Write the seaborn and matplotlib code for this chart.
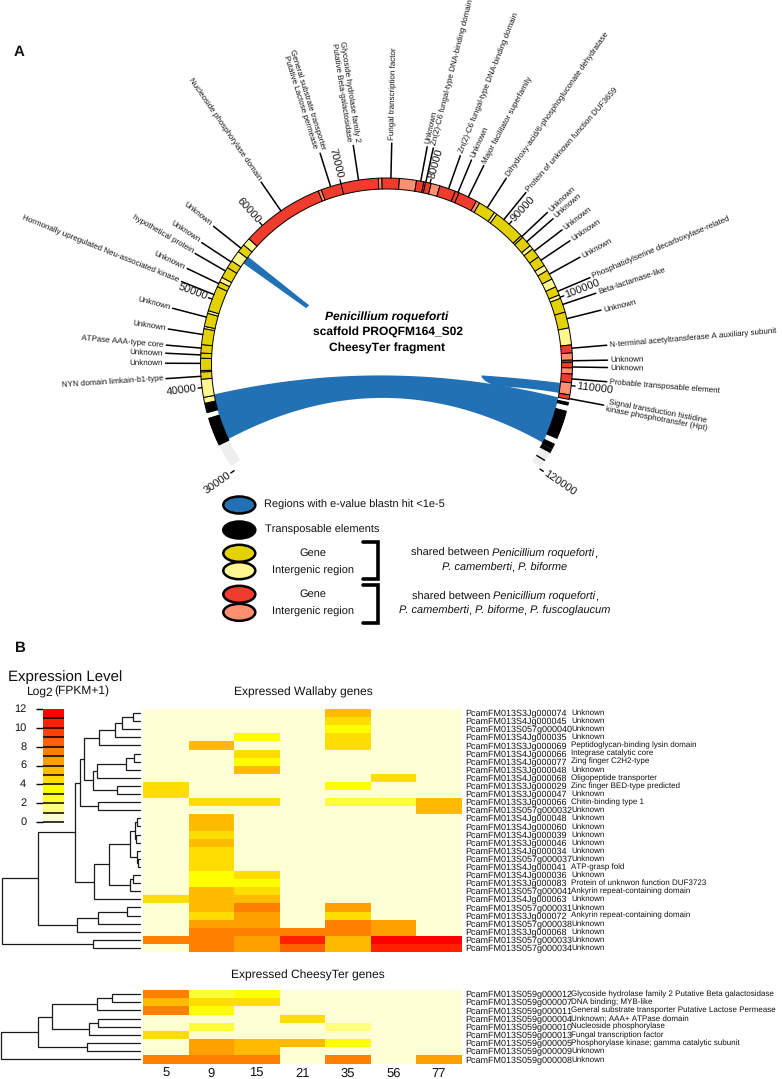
import numpy as np
import matplotlib
matplotlib.use("Agg")
import matplotlib.pyplot as plt
from matplotlib.colors import ListedColormap
from matplotlib.patches import Wedge, Ellipse, Polygon
import seaborn as sns

# ---------- data: panel A ----------
tick_values = [30000, 40000, 50000, 60000, 70000, 80000, 90000, 100000, 110000, 120000]

seg_start = [30600, 33320, 37150, 38230, 38900, 40935, 41750, 41900, 43280, 43860, 44800, 46600, 46850,
             48350, 48650, 51500, 52100, 52650, 53900, 54790, 56060, 57000, 57900, 67350, 67700, 70000,
             74200, 74600, 76550, 78470, 79300, 79500, 80130, 81140, 82950, 83400, 85540, 85950, 87920,
             88250, 91850, 92100, 93350, 93800, 94900, 96050, 96700, 97780, 98750, 99730, 100130, 101740,
             103550, 105460, 106360, 107160, 107400, 108030, 108710, 109690, 111060, 111900, 112900,
             116800, 117500, 117900]
seg_end = [33320, 36500, 38230, 38900, 40935, 41750, 41900, 43280, 43860, 44800, 46600, 46850, 48350,
           48650, 51500, 52100, 52650, 53900, 54790, 56060, 57000, 57900, 67350, 67700, 70000, 74200,
           74600, 76550, 78470, 79300, 79500, 80130, 81140, 82950, 83400, 85540, 85950, 87920, 88250,
           91850, 92100, 93350, 93800, 94900, 96050, 96700, 97780, 98750, 99730, 100130, 101740, 103550,
           105460, 106360, 107160, 107400, 108030, 108710, 109690, 111060, 111560, 112200, 116100,
           117400, 117900, 119800]
seg_kind = ["unseq", "te", "te", "inter3", "inter3", "gene3", "inter3", "gene3", "gene3", "gene3", "gene3",
            "inter3", "gene3", "inter3", "gene3", "gene3", "inter3", "gene3", "gene3", "inter3", "gene3",
            "inter3", "gene4", "inter4", "gene4", "gene4", "inter4", "gene4", "inter4", "gene4", "gene4",
            "gene4", "inter4", "gene4", "gene4", "gene4", "inter4", "gene3", "inter3", "gene3", "gene3",
            "gene3", "inter3", "gene3", "gene3", "inter3", "gene3", "inter3", "gene3", "inter3", "gene3",
            "gene3", "inter3", "gene4", "inter4", "gene4", "gene4", "inter4", "gene4", "inter4", "gene4",
            "te", "te", "te", "te", "unseq"]

gene_names = ["NYN domain limkain-b1-type", "Unknown", "Unknown", "ATPase AAA-type core", "Unknown", "Unknown",
              "Hormonally upregulated Neu-associated kinase", "Unknown", "hypothetical protein", "Unknown",
              "Unknown", "Nucleoside phosphorylase domain",
              "General substrate transporter\nPutative Lactose permease",
              "Glycoside hydrolase family 2\nPutative Beta-galactosidase", "Fungal transcription factor",
              "Unknown", "Zn(2)-C6 fungal-type DNA-binding domain", "Zn(2)-C6 fungal-type DNA-binding domain",
              "Unknown", "Major facilitator superfamily", "Dihydroxy-acid/6-phosphogluconate dehydratase",
              "Protein of unknown function DUF3659", "Unknown", "Unknown", "Unknown", "Unknown", "Unknown",
              "Phosphatidylserine decarboxylase-related", "Beta-lactamase-like", "Unknown",
              "N-terminal acetyltransferase A auxiliary subunit", "Unknown", "Unknown",
              "Probable transposable element", "Signal transduction histidine\nkinase phosphotransfer (Hpt)"]
gene_pos = [41260, 42700, 43640, 44400, 45920, 47900, 50540, 51870, 53460, 54650, 56530, 62630, 68800, 71990,
            75600, 78940, 79520, 82150, 83270, 84530, 86950, 89220, 91970, 92760, 94100, 95360, 97160, 99290,
            100850, 102500, 105830, 107230, 107920, 109250, 111460]

# ribbons: (start, end) on one side, (start, end) on the other
main_ribbon = (39020, 33470, 111560, 117230)
lobe_ribbon = (109830, 111020)
small_ribbon = (55300, 56270)

# ---------- data: panel B ----------
cols = ["5", "9", "15", "21", "35", "56", "77"]

wallaby_ids = ["PcamFM013S3Jg000074", "PcamFM013S4Jg000045", "PcamFM013S057g000040", "PcamFM013S4Jg000035",
               "PcamFM013S3Jg000069", "PcamFM013S4Jg000066", "PcamFM013S4Jg000077", "PcamFM013S3Jg000048",
               "PcamFM013S4Jg000068", "PcamFM013S3Jg000029", "PcamFM013S3Jg000047", "PcamFM013S3Jg000066",
               "PcamFM013S057g000032", "PcamFM013S4Jg000048", "PcamFM013S4Jg000060", "PcamFM013S4Jg000039",
               "PcamFM013S3Jg000046", "PcamFM013S4Jg000034", "PcamFM013S057g000037", "PcamFM013S4Jg000041",
               "PcamFM013S4Jg000036", "PcamFM013S3Jg000083", "PcamFM013S057g000041", "PcamFM013S4Jg000063",
               "PcamFM013S057g000031", "PcamFM013S3Jg000072", "PcamFM013S057g000038", "PcamFM013S3Jg000068",
               "PcamFM013S057g000033", "PcamFM013S057g000034"]
wallaby_desc = ["Unknown", "Unknown", "Unknown", "Unknown", "Peptidoglycan-binding lysin domain",
                "Integrase catalytic core", "Zing finger C2H2-type", "Unknown", "Oligopeptide transporter",
                "Zinc finger BED-type predicted", "Unknown", "Chitin-binding type 1", "Unknown", "Unknown",
                "Unknown", "Unknown", "Unknown", "Unknown", "Unknown", "ATP-grasp fold", "Unknown",
                "Protein of unknwon function DUF3723", "Ankyrin repeat-containing domain", "Unknown", "Unknown",
                "Ankyrin repeat-containing domain", "Unknown", "Unknown", "Unknown", "Unknown"]
wallaby_levels = [
    [0, 0, 0, 0, 5, 0, 0],
    [0, 0, 0, 0, 4, 0, 0],
    [0, 0, 0, 0, 3, 0, 0],
    [0, 0, 3, 0, 4, 0, 0],
    [0, 5, 0, 0, 4, 0, 0],
    [0, 0, 4, 0, 0, 0, 0],
    [0, 0, 3, 0, 0, 0, 0],
    [0, 0, 5, 0, 0, 0, 0],
    [0, 0, 0, 0, 0, 4, 0],
    [4, 0, 0, 0, 3, 0, 0],
    [4, 0, 0, 0, 0, 0, 0],
    [0, 4, 4, 0, 2, 2, 5],
    [0, 0, 0, 0, 0, 0, 5],
    [0, 5, 0, 0, 0, 0, 0],
    [0, 5, 0, 0, 0, 0, 0],
    [0, 4, 0, 0, 0, 0, 0],
    [0, 5, 0, 0, 0, 0, 0],
    [0, 4, 0, 0, 0, 0, 0],
    [0, 4, 0, 0, 0, 0, 0],
    [0, 4, 0, 0, 0, 0, 0],
    [0, 3, 4, 0, 0, 0, 0],
    [0, 3, 3, 0, 0, 0, 0],
    [0, 5, 4, 0, 0, 0, 0],
    [4, 5, 5, 0, 0, 0, 0],
    [0, 5, 7, 0, 6, 0, 0],
    [0, 4, 6, 0, 4, 0, 0],
    [0, 6, 6, 0, 7, 6, 0],
    [0, 7, 7, 7, 7, 6, 0],
    [7, 7, 6, 10, 5, 11, 11],
    [0, 7, 6, 8, 5, 10, 10],
]

cheesy_ids = ["PcamFM013S059g000012", "PcamFM013S059g000007", "PcamFM013S059g000011", "PcamFM013S059g000004",
              "PcamFM013S059g000010", "PcamFM013S059g000013", "PcamFM013S059g000005", "PcamFM013S059g000009",
              "PcamFM013S059g000008"]
cheesy_desc = ["Glycoside hydrolase family 2 Putative Beta galactosidase", "DNA binding; MYB-like",
               "General substrate transporter Putative Lactose Permease", "Unknown; AAA+ ATPase domain",
               "Nucleoside phosphorylase", "Fungal transcription factor",
               "Phosphorylase kinase; gamma catalytic subunit", "Unknown", "Unknown"]
cheesy_levels = [
    [7, 2, 3, 0, 0, 0, 0],
    [5, 4, 4, 0, 0, 0, 0],
    [7, 3, 0, 0, 0, 0, 0],
    [0, 0, 0, 4, 0, 0, 0],
    [0, 2, 0, 0, 1, 0, 0],
    [4, 0, 0, 0, 0, 0, 0],
    [0, 6, 5, 5, 3, 0, 0],
    [0, 6, 5, 0, 0, 0, 0],
    [7, 7, 7, 0, 7, 0, 6],
]
level_colors = ["#FFFFD5", "#FFFF80", "#FFFF33", "#FFFF00", "#FFDD00", "#FFBB00",
                "#FF9F00", "#FF8000", "#FF6000", "#FF4000", "#FF2000", "#FF0000"]
scale_ticks = [12, 10, 8, 6, 4, 2, 0]

# merge trees: (merge height, child, child), leaf = row number
wallaby_tree = (1.5,
    (38,
        (75,
            (80,
                (84,
                    (98.7, (115, (122, (133, 0, 1), 2), 3), 4),
                    (92.7, (97, (126, (134, 5, 6), 7), 8), (117, 9, 10))),
                (97.5, 11, 12)),
            (94,
                (109,
                    (130, (135, (137, 13, 14), (136, 15, 16)), (137, 17, (138, 18, 19))),
                    (129.7, (133, 20, 21), 22)),
                23)),
        (76.7, (98, (127, 24, 25), 26), 27)),
    (93, 28, 29))
cheesy_tree = (1,
    (38,
        (52, (97, (112, 0, 1), 2), (89, (98, 3, 4), 5)),
        (87, 6, 7)),
    8)

# ---------- layout ----------
W, H = 782, 1079
CX, CY = 386.5, 364
R_IN, R_OUT, R_LINE = 175, 186, 221
kind_colors = {"gene3": "#E3D200", "inter3": "#FFF68F", "gene4": "#F03C2C", "inter4": "#FF9070",
               "te": "black", "unseq": "#EEEEEE"}
BLUE = "#2271B5"
SMALL = 5.85
LEGEND = 8.1

sns.set_theme(style="white")
plt.rcParams["font.family"] = ["Liberation Sans", "DejaVu Sans"]
plt.rcParams["axes.unicode_minus"] = False
plt.rcParams["text.hinting"] = "no_hinting"
plt.rcParams["text.hinting_factor"] = 1

fig = plt.figure(figsize=(W / 100, H / 100), dpi=100)
ax = fig.add_axes([0, 0, 1, 1])
ax.set_xlim(0, W)
ax.set_ylim(H, 0)
ax.axis("off")


def px_axes(x0, y0, x1, y1):
    return fig.add_axes([x0 / W, 1 - y1 / H, (x1 - x0) / W, (y1 - y0) / H])


def angle(pos):
    return -125 + (np.asarray(pos) - 30000) * 27.71 / 10000


def polar_xy(pos, r):
    th = np.radians(angle(pos))
    return CX + r * np.sin(th), CY - r * np.cos(th)


def radial_text(pos, r, label, size):
    th = angle(pos)
    x, y = polar_xy(pos, r)
    rot = 90 - th if th >= 0 else -90 - th
    # labels on the upper right lean a little further over than the radius
    if 5 < th < 45:
        rot -= 2
    ax.text(x, y, label, fontsize=size, rotation=rot, rotation_mode="anchor",
            ha="left" if th >= 0 else "right", va="center", ma="center", color="#111111",
            linespacing=1.05)


def ribbon_arc(a, b):
    # arc along the inner edge of the ring
    steps = np.linspace(a, b, 12)
    return [polar_xy(p, R_IN) for p in steps]


def bezier(p0, c, p1):
    t = np.linspace(0, 1, 60)[:, None]
    return (1 - t) ** 2 * np.array(p0) + 2 * t * (1 - t) * np.array(c) + t ** 2 * np.array(p1)


def piece_width(s, **kw):
    r = fig.canvas.get_renderer()
    t = ax.text(0, 0, "|" + s + "|", **kw)
    w1 = t.get_window_extent(r).width
    t.set_text("||")
    w2 = t.get_window_extent(r).width
    t.remove()
    return w1 - w2


def run_text(pieces, x, y, size, center=True):
    # one line of plain and italic pieces
    widths = [piece_width(s, fontsize=size, style=st) for s, st in pieces]
    cur = x - sum(widths) / 2 if center else x
    for (s, st), w in zip(pieces, widths):
        ax.text(cur, y, s, fontsize=size, style=st, ha="left", va="center", color="#111111")
        cur += w


# ---------- panel A: ribbons ----------
a1, a2, b1, b2 = main_ribbon
ctrl = (CX, 355)
top = bezier(polar_xy(a1, R_IN), ctrl, polar_xy(b1, R_IN))
bottom = bezier(polar_xy(b2, R_IN), ctrl, polar_xy(a2, R_IN))
pts = np.vstack([top, ribbon_arc(b1, b2), bottom, ribbon_arc(a2, a1)])
ax.add_patch(Polygon(pts, closed=True, fc=BLUE, ec="none", zorder=1))

tip = polar_xy((lobe_ribbon[0] + lobe_ribbon[1]) / 2 - 150, 96)
tip_up = bezier(polar_xy(lobe_ribbon[0], R_IN), (tip[0] + 38, tip[1] + 1.5), (tip[0], tip[1] - 1))
tip_low = bezier((tip[0], tip[1] + 1), (tip[0] + 6, tip[1] + 8), (tip[0] + 18, tip[1] + 10))
tail = bezier((tip[0] + 18, tip[1] + 10), (tip[0] + 45, tip[1] + 11), polar_xy(lobe_ribbon[1], R_IN))
pts = np.vstack([tip_up, tip_low, tail, ribbon_arc(lobe_ribbon[1], lobe_ribbon[0])])
ax.add_patch(Polygon(pts, closed=True, fc=BLUE, ec="none", zorder=1))

s1, s2 = small_ribbon
pts = ribbon_arc(s1, s2) + [polar_xy(s2 - 220, 97), polar_xy(s1 - 100, 98)]
ax.add_patch(Polygon(pts, closed=True, fc=BLUE, ec="none", zorder=1))

# ---------- panel A: ring ----------
for s, e, k in zip(seg_start, seg_end, seg_kind):
    edge = "none" if k == "unseq" else "black"
    ax.add_patch(Wedge((CX, CY), R_OUT, angle(s) - 90, angle(e) - 90, width=R_OUT - R_IN,
                       fc=kind_colors[k], ec=edge, lw=0.7, zorder=2))
x0, y0 = polar_xy(118900, R_IN + 1)
x1, y1 = polar_xy(118900, R_OUT - 1)
ax.plot([x0, x1], [y0, y1], color="black", lw=1, zorder=3)

for v in tick_values:
    x0, y0 = polar_xy(v, R_OUT)
    x1, y1 = polar_xy(v, R_OUT + 4)
    ax.plot([x0, x1], [y0, y1], color="black", lw=1, zorder=3)
    radial_text(v, R_OUT + 5.5, str(v), 8)

for name, p in zip(gene_names, gene_pos):
    x0, y0 = polar_xy(p, R_OUT)
    x1, y1 = polar_xy(p, R_LINE)
    ax.plot([x0, x1], [y0, y1], color="black", lw=1.1, zorder=3)
    radial_text(p, R_LINE + 3, name, SMALL)

ax.text(19, 52, "A", fontsize=10.7, fontweight="bold", ha="center", va="center", color="#111111")
ax.text(CX, 317, "Penicillium roqueforti", fontsize=8.3, fontweight="bold", style="italic",
        ha="center", va="center", color="black")
ax.text(CX + 1.5, 332.5, "scaffold PROQFM164_S02", fontsize=8.3, fontweight="bold",
        ha="center", va="center", color="black")
ax.text(CX + 1, 348, "CheesyTer fragment", fontsize=8.3, fontweight="bold",
        ha="center", va="center", color="black")

# ---------- panel A: legend ----------
legend_y = [505, 530, 553.3, 570.7, 594.3, 612.3]
legend_c = [BLUE, "black", kind_colors["gene3"], kind_colors["inter3"], kind_colors["gene4"], kind_colors["inter4"]]
for y, c in zip(legend_y, legend_c):
    ax.add_patch(Ellipse((239.3, y), 32, 17, fc=c, ec="black", lw=1.8))

run_text([("Regions with e-value blastn hit <1e-5", "normal")], 264, 505, LEGEND, center=False)
run_text([("Transposable elements", "normal")], 265, 530, LEGEND, center=False)
for y, t in zip(legend_y[2:], ["Gene", "Intergenic region", "Gene", "Intergenic region"]):
    ax.text(312.7, y, t, fontsize=LEGEND, ha="center", va="center", color="#111111")

for y0, y1 in [(541.7, 579.3), (585, 622.7)]:
    ax.plot([363, 378, 378, 363], [y0, y0, y1, y1], color="black", lw=2.6, solid_joinstyle="miter")

run_text([("shared between ", "normal"), ("Penicillium roqueforti", "italic"), (",", "normal")], 504, 553.5, LEGEND)
run_text([("P. camemberti", "italic"), (", ", "normal"), ("P. biforme", "italic")], 504.7, 568, LEGEND)
run_text([("shared between ", "normal"), ("Penicillium roqueforti", "italic"), (",", "normal")], 505, 596.7, LEGEND)
run_text([("P. camemberti", "italic"), (", ", "normal"), ("P. biforme", "italic"), (", ", "normal"),
          ("P. fuscoglaucum", "italic")], 505, 611, LEGEND)

# ---------- panel B ----------
ax.text(20, 648, "B", fontsize=10.7, fontweight="bold", ha="center", va="center", color="#111111")
ax.text(8, 677, "Expression Level", fontsize=10.9, ha="left", va="center", color="#111111")
ax.text(26, 691, "Log", fontsize=8.3, ha="left", va="center", color="#111111")
ax.text(45, 693, "2", fontsize=8.3, ha="left", va="center", color="#111111")
ax.text(54, 691, "(FPKM+1)", fontsize=8.3, ha="left", va="center", color="#111111")
ax.text(303, 692, "Expressed Wallaby genes", fontsize=8.7, ha="center", va="center", color="#111111")
ax.text(308, 975, "Expressed CheesyTer genes", fontsize=8.9, ha="center", va="center", color="#111111")

cmap = ListedColormap(level_colors)

# colour scale
ax_scale = px_axes(43, 709, 64, 822)
scale_data = (np.arange(12)[::-1] + 0.5).reshape(-1, 1)
sns.heatmap(scale_data, cmap=cmap, vmin=0, vmax=12, cbar=False, ax=ax_scale, xticklabels=False)
ax_scale.set_yticks([12 - t for t in scale_ticks])
ax_scale.set_yticklabels(scale_ticks, rotation=0, fontsize=8, color="#111111")
ax_scale.tick_params(axis="y", length=5, width=1, color="black", left=True, pad=7)
ax_scale.hlines(np.arange(1, 13), 0, 1, color="black", lw=1.1, clip_on=False)
for t in ax_scale.get_yticklabels():
    t.set_ha("right")


def draw_heat(levels, ids, descs, y0, y1, x_ticks=False):
    hax = px_axes(143, y0, 461.5, y1)
    values = np.array(levels) + 0.5
    sns.heatmap(values, cmap=cmap, vmin=0, vmax=12, cbar=False, ax=hax, linewidths=0,
                xticklabels=cols if x_ticks else False, yticklabels=ids)
    hax.yaxis.tick_right()
    hax.tick_params(axis="y", length=0, pad=3, labelsize=6.15, labelcolor="#111111", labelrotation=0)
    hax.tick_params(axis="x", length=0, pad=3, labelsize=9.7, labelcolor="#111111", labelrotation=0)
    for i, d in enumerate(descs):
        hax.text((571 - 143) / 318.5, i + 0.5, d, transform=hax.get_yaxis_transform(), fontsize=5.88,
                 va="center", ha="left", color="#111111", clip_on=False)
    return hax


def draw_tree(node, dax, leaf_x):
    # returns (height, row centre) of a node
    if isinstance(node, int):
        return leaf_x, node + 0.5
    h, left, right = node
    hl, yl = draw_tree(left, dax, leaf_x)
    hr, yr = draw_tree(right, dax, leaf_x)
    dax.plot([hl, h, h, hr], [yl, yl, yr, yr], color="#1a1a1a", lw=0.9, solid_joinstyle="miter")
    return h, (yl + yr) / 2


draw_heat(wallaby_levels, wallaby_ids, wallaby_desc, 709, 952)
draw_heat(cheesy_levels, cheesy_ids, cheesy_desc, 990, 1063.5, x_ticks=True)

dend1 = px_axes(0, 709, 143, 952)
dend1.set_xlim(0, 143)
dend1.set_ylim(30, 0)
dend1.axis("off")
draw_tree(wallaby_tree, dend1, 140)

dend2 = px_axes(0, 990, 143, 1063.5)
dend2.set_xlim(0, 143)
dend2.set_ylim(9, 0)
dend2.axis("off")
draw_tree(cheesy_tree, dend2, 140)

fig.savefig("out.png", dpi=100)
